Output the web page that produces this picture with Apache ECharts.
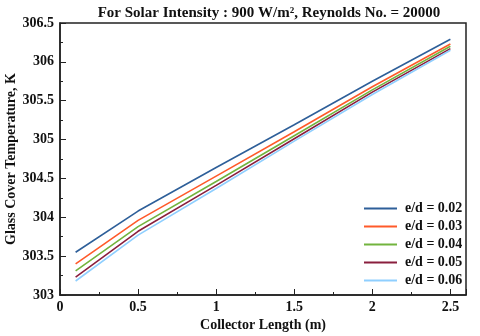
<!DOCTYPE html>
<html>
<head>
<meta charset="utf-8">
<script src="https://cdn.jsdelivr.net/npm/echarts@6/dist/echarts.min.js"></script>
<style>
  html, body { margin: 0; padding: 0; background: #fff; }
  #chart { width: 480px; height: 336px; }
</style>
</head>
<body>
<div id="chart"></div>
<script>
// collector length (m)
const lengths = [0.1, 0.5, 1, 1.5, 2, 2.5];
// glass cover temperature (K) per e/d
const ed002 = [303.55, 304.08, 304.64, 305.19, 305.75, 306.29];
const ed003 = [303.40, 303.96, 304.53, 305.10, 305.68, 306.23];
const ed004 = [303.31, 303.88, 304.46, 305.05, 305.64, 306.20];
const ed005 = [303.23, 303.82, 304.41, 305.01, 305.61, 306.17];
const ed006 = [303.18, 303.77, 304.37, 304.98, 305.58, 306.15];
const seriesNames = ['e/d = 0.02', 'e/d = 0.03', 'e/d = 0.04', 'e/d = 0.05', 'e/d = 0.06'];
const colors = ['#2e5f99', '#ff5a2a', '#72b43e', '#8a1f3e', '#8fcfff'];

const font = 'Liberation Serif';
const allData = [ed002, ed003, ed004, ed005, ed006];

const chart = echarts.init(document.getElementById('chart'), null, { renderer: 'canvas' });

const series = allData.map(function (vals, i) {
  return {
    name: seriesNames[i],
    type: 'line',
    showSymbol: false,
    data: lengths.map(function (x, j) { return [x, vals[j]]; }),
    lineStyle: { color: colors[i], width: 1.6 },
    itemStyle: { color: colors[i] },
    animation: false
  };
});

chart.setOption({
  animation: false,
  title: {
    text: 'For Solar Intensity : 900 W/m², Reynolds No. = 20000',
    left: 264,
    textAlign: 'center',
    top: 1,
    textStyle: { fontFamily: font, fontWeight: 'bold', fontSize: 15, color: '#111' }
  },
  grid: {
    left: 60, right: 14, top: 23, bottom: 41,
    outerBoundsMode: 'none',
    show: true, borderColor: '#222', borderWidth: 1.5
  },
  legend: {
    orient: 'vertical',
    left: 359, top: 196,
    icon: 'rect', itemWidth: 33, itemHeight: 2, itemGap: 3,
    data: seriesNames,
    textStyle: { fontFamily: font, fontWeight: 'bold', fontSize: 14, color: '#111', lineHeight: 15, padding: [0, 0, 0, 3] }
  },
  xAxis: {
    type: 'value', min: 0, max: 2.6, interval: 0.5,
    name: 'Collector Length (m)', nameLocation: 'middle', nameGap: 23,
    nameMoveOverlap: false,
    nameTextStyle: { fontFamily: font, fontWeight: 'bold', fontSize: 14, color: '#111' },
    axisLine: { lineStyle: { color: '#222', width: 1.5 } },
    axisTick: { inside: true, length: 6, lineStyle: { color: '#222' } },
    minorTick: { show: true, splitNumber: 2, length: 3, lineStyle: { color: '#222' } },
    splitLine: { show: false },
    axisLabel: {
      showMaxLabel: false, margin: 5,
      fontFamily: font, fontWeight: 'bold', fontSize: 14, color: '#111'
    }
  },
  yAxis: {
    type: 'value', min: 303, max: 306.5, interval: 0.5,
    name: 'Glass Cover Temperature, K', nameLocation: 'middle', nameGap: 42,
    nameMoveOverlap: false,
    nameTextStyle: { fontFamily: font, fontWeight: 'bold', fontSize: 14, color: '#111' },
    axisLine: { show: true, lineStyle: { color: '#222', width: 1.5 } },
    axisTick: { show: true, inside: true, length: 6, lineStyle: { color: '#222' } },
    minorTick: { show: true, splitNumber: 2, length: 3, lineStyle: { color: '#222' } },
    splitLine: { show: false },
    axisLabel: { margin: 6, fontFamily: font, fontWeight: 'bold', fontSize: 14, color: '#111' }
  },
  series: series
});
</script>
</body>
</html>
